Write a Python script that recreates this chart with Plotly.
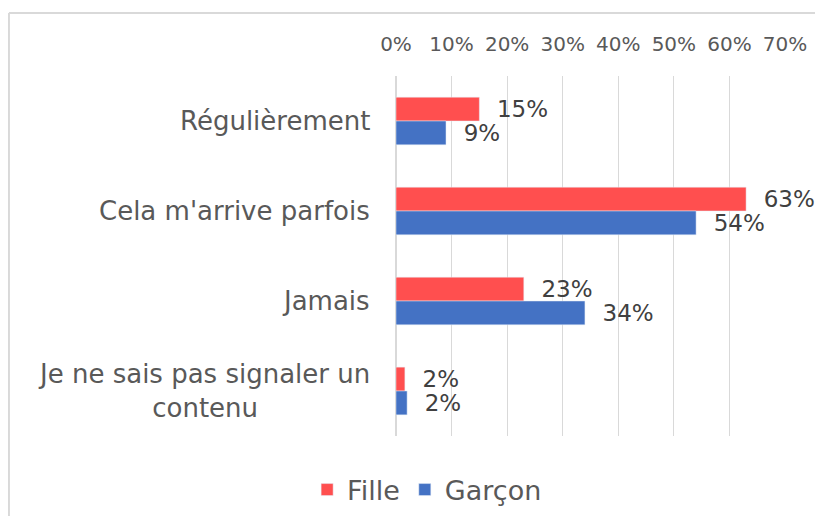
import plotly.graph_objects as go

categories = ["Régulièrement", "Cela m'arrive parfois", "Jamais", "Je ne sais pas signaler un<br>contenu"]
fille = [0.15, 0.63, 0.23, 0.016]
garcon = [0.09, 0.54, 0.34, 0.02]
tick_vals = [0, 0.1, 0.2, 0.3, 0.4, 0.5, 0.6, 0.7]
tick_text = ["0%", "10%", "20%", "30%", "40%", "50%", "60%", "70%"]

FONT = "DejaVu Sans"
GREY = "#595959"


def labels(values):
    return ["  " + f"{round(v * 100)}%" for v in values]


fig = go.Figure()
fig.add_trace(go.Bar(y=categories, x=fille, name="Fille", orientation="h",
                     marker=dict(color="#FF4F4F"), text=labels(fille),
                     textposition="outside", constraintext="none", cliponaxis=False,
                     textfont=dict(family=FONT, size=23, color="#404040")))
fig.add_trace(go.Bar(y=categories, x=garcon, name="Garçon", orientation="h",
                     marker=dict(color="#4472C4"), text=labels(garcon),
                     textposition="outside", constraintext="none", cliponaxis=False,
                     textfont=dict(family=FONT, size=23, color="#404040")))

# category labels, centred like the original
for c in categories:
    fig.add_annotation(x=0, xref="paper", y=c, yref="y", text=c, showarrow=False,
                       xanchor="right", xshift=-24, align="center",
                       font=dict(family=FONT, size=26, color=GREY))

# chart border (top and left edges visible)
fig.add_shape(type="line", xref="paper", yref="paper", x0=-0.995, x1=1.2, y0=1.175, y1=1.175,
              line=dict(color="#D9D9D9", width=2))
fig.add_shape(type="line", xref="paper", yref="paper", x0=-0.995, x1=-0.995, y0=1.175, y1=-0.3,
              line=dict(color="#D9D9D9", width=2))

fig.update_layout(
    width=815,
    height=508,
    margin=dict(l=388, r=38, t=68, b=80, autoexpand=False),
    barmode="group",
    bargap=0.47,
    bargroupgap=0,
    plot_bgcolor="white",
    paper_bgcolor="white",
    font=dict(family=FONT, color=GREY),
    showlegend=True,
    legend=dict(orientation="h", x=0.08, xanchor="center", y=-0.082, yanchor="top",
                font=dict(family=FONT, size=27, color=GREY), traceorder="normal"),
    xaxis=dict(side="top", range=[0, 0.7], tickvals=tick_vals, ticktext=tick_text,
               showgrid=True, gridcolor="#D9D9D9", gridwidth=1, zeroline=True,
               zerolinecolor="#D9D9D9", showline=False, ticks="",
               tickfont=dict(family=FONT, size=20, color=GREY), ticklabelstandoff=20),
    yaxis=dict(autorange="reversed", showticklabels=False, showgrid=False, ticks=""),
)

fig.write_html("out.html")
